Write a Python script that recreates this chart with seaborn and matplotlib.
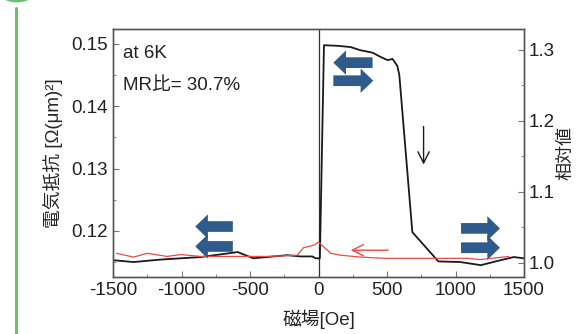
import numpy as np
import pandas as pd
import matplotlib
matplotlib.use("Agg")
import matplotlib.pyplot as plt
import seaborn as sns
from matplotlib.patches import Circle

# black curve (sweep up)
black_field = [-1500, -1350, -1150, -860, -590, -475, -230, -130, -45, -20, 10, 40,
               140, 235, 305, 395, 455, 505, 540, 575, 590, 685, 875, 1035, 1185, 1330, 1425, 1500]
black_res = [0.1153, 0.1150, 0.1154, 0.1158, 0.1166, 0.1156, 0.1161, 0.1159, 0.1159, 0.1156, 0.1156, 0.1498,
             0.1497, 0.1495, 0.1490, 0.1486, 0.1479, 0.1474, 0.1476, 0.1465, 0.1450, 0.1198, 0.1151, 0.1150,
             0.1145, 0.1153, 0.1158, 0.1156]

# red curve (sweep down)
red_field = [-1475, -1350, -1250, -1105, -1005, -860, -620, -370, -155, -110, -35, 0, 35, 90,
             160, 305, 475, 840, 1090, 1180, 1390]
red_res = [0.1164, 0.1158, 0.1164, 0.1159, 0.1162, 0.1159, 0.1159, 0.1159, 0.1161, 0.1173, 0.1177, 0.1182,
           0.1175, 0.1164, 0.1161, 0.1158, 0.1156, 0.1156, 0.1156, 0.1154, 0.1159]

x_ticks = [-1500, -1000, -500, 0, 500, 1000, 1500]
left_ticks = [0.12, 0.13, 0.14, 0.15]
right_ticks = [1.0, 1.1, 1.2, 1.3]

sns.set_style("ticks")
plt.rcParams['font.family'] = ['Liberation Sans', 'Noto Sans CJK JP', 'DejaVu Sans']
plt.rcParams['font.size'] = 13.5

fig = plt.figure(figsize=(5.79, 3.34), dpi=100)
ax = fig.add_axes([113 / 579, 1 - 277 / 334, 411 / 579, 248 / 334])

df_b = pd.DataFrame({"field": black_field, "res": black_res})
df_r = pd.DataFrame({"field": red_field, "res": red_res})
sns.lineplot(data=df_b, x="field", y="res", color="#1a1a1a", lw=1.3, ax=ax)
sns.lineplot(data=df_r, x="field", y="res", color="#ea4a44", lw=0.9, ax=ax)
ax.axvline(0, color="#333333", lw=0.9, zorder=1)

ax.set_xlim(-1500, 1500)
ax.set_ylim(0.1126, 0.1524)
ax.set_xticks(x_ticks)
ax.set_xticks(np.arange(-1250, 1500, 500), minor=True)
ax.set_yticks(left_ticks)
ax.set_yticks([0.115, 0.125, 0.135, 0.145], minor=True)
ax.set_yticklabels([f"{v:.2f}" for v in left_ticks])
ax.set_xticklabels([str(v) for v in x_ticks])
ax.set_xlabel("磁場[Oe]", labelpad=8)
ax.set_ylabel("電気抵抗 [Ω(μm)²]", labelpad=6)

ax2 = ax.twinx()
ax2.set_ylim(0.980, 1.3296)
ax2.set_yticks(right_ticks)
ax2.set_yticks([1.05, 1.15, 1.25], minor=True)
ax2.set_yticklabels([f"{v:.1f}" for v in right_ticks])
ax2.set_ylabel("相対値", labelpad=2, fontsize=13)

for a in (ax, ax2):
    a.tick_params(which="both", direction="in", colors="#777777", labelcolor="#222222")
    a.tick_params(which="major", length=4)
    a.tick_params(which="minor", length=2)
    for s in a.spines.values():
        s.set_color("#555555")
        s.set_linewidth(1.0)

ax.text(-1430, 0.1485, "at 6K", fontsize=13.5, color="#222222", va="center")
ax.text(-1430, 0.1433, "MR比= 30.7%", fontsize=13.5, color="#222222", va="center")

# block arrows
blue = "#2f5b8c"
block = dict(arrowstyle="simple,head_length=0.65,head_width=1.25,tail_width=0.55",
             mutation_scale=14, color=blue, lw=0)
ax.annotate("", xy=(-920, 0.1207), xytext=(-605, 0.1207), arrowprops=block)
ax.annotate("", xy=(-920, 0.1175), xytext=(-605, 0.1175), arrowprops=block)
ax.annotate("", xy=(1345, 0.1204), xytext=(1020, 0.1204), arrowprops=block)
ax.annotate("", xy=(1345, 0.1173), xytext=(1020, 0.1173), arrowprops=block)
ax.annotate("", xy=(88, 0.1470), xytext=(415, 0.1470), arrowprops=block)
ax.annotate("", xy=(420, 0.1441), xytext=(88, 0.1441), arrowprops=block)

# sweep direction arrows
ax.annotate("", xy=(215, 0.1169), xytext=(530, 0.1169),
            arrowprops=dict(arrowstyle="->,head_length=0.6,head_width=0.3", color="#ea4a44", lw=1.0))
ax.annotate("", xy=(767, 0.1302), xytext=(767, 0.1372),
            arrowprops=dict(arrowstyle="->,head_length=0.6,head_width=0.3", color="#1a1a1a", lw=1.0))

# page decoration
fig.add_artist(plt.Line2D([16 / 579, 16 / 579], [0, 1 - 8 / 334], transform=fig.transFigure,
                          color="#6cc070", lw=2.2))
fig.add_artist(Circle((17 / 579, 1 + 8 / 334), 18 / 579, transform=fig.transFigure,
                      color="#6cc070", lw=0))

fig.savefig("out.png", dpi=100)
